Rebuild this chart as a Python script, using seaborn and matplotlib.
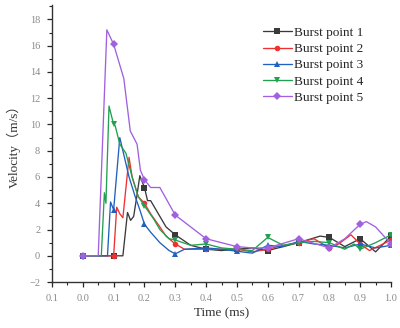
import numpy as np
import pandas as pd
import matplotlib
matplotlib.use("Agg")
import matplotlib.pyplot as plt
from matplotlib.ticker import MultipleLocator, FixedLocator, FixedFormatter
import seaborn as sns

# ---- data ----
t1 = [0.0, 0.1, 0.13, 0.145, 0.155, 0.165, 0.175, 0.185, 0.2, 0.21, 0.22, 0.25, 0.27, 0.3,
      0.35, 0.4, 0.45, 0.5, 0.55, 0.6, 0.65, 0.7, 0.77, 0.8, 0.85, 0.9, 0.95, 1.0]
v1 = [0.0, 0.0, 0.0, 3.3, 2.7, 3.0, 4.5, 6.1, 5.2, 4.2, 4.2, 3.0, 2.2, 1.6,
      0.8, 0.5, 0.4, 0.5, 0.6, 0.4, 0.7, 1.0, 1.5, 1.4, 0.7, 1.3, 0.3, 1.5]

t2 = [0.0, 0.1, 0.11, 0.12, 0.13, 0.15, 0.16, 0.18, 0.2, 0.22, 0.25, 0.27, 0.3,
      0.33, 0.4, 0.5, 0.55, 0.6, 0.65, 0.7, 0.75, 0.8, 0.83, 0.87, 0.9, 0.93, 1.0]
v2 = [0.0, 0.0, 3.7, 3.2, 2.9, 7.5, 6.0, 4.5, 4.0, 3.2, 2.2, 1.5, 0.9,
      0.5, 0.5, 0.5, 0.3, 0.5, 0.8, 1.0, 1.3, 0.6, 0.9, 1.6, 0.9, 0.4, 1.2]

t3 = [0.0, 0.08, 0.09, 0.1, 0.12, 0.13, 0.15, 0.17, 0.185, 0.2, 0.22, 0.25, 0.28, 0.3,
      0.33, 0.4, 0.45, 0.5, 0.55, 0.6, 0.65, 0.7, 0.75, 0.8, 0.85, 0.9, 0.95, 1.0]
v3 = [0.0, 0.0, 4.1, 3.5, 9.0, 8.0, 6.0, 4.5, 3.5, 2.4, 1.8, 1.0, 0.4, 0.15,
      0.5, 0.6, 0.5, 0.35, 0.2, 0.8, 0.7, 1.1, 0.9, 0.8, 0.6, 0.9, 0.6, 0.8]

t4 = [0.0, 0.06, 0.07, 0.075, 0.085, 0.1, 0.105, 0.12, 0.14, 0.16, 0.18, 0.2, 0.23, 0.25, 0.28, 0.3,
      0.35, 0.4, 0.45, 0.5, 0.55, 0.6, 0.65, 0.7, 0.75, 0.8, 0.85, 0.88, 0.9, 0.95, 1.0]
v4 = [0.0, 0.0, 4.8, 4.0, 11.4, 10.0, 9.9, 8.5, 7.8, 6.0, 4.5, 3.8, 2.8, 2.0, 1.3, 1.2,
      0.8, 0.9, 0.6, 0.5, 0.4, 1.4, 0.8, 1.0, 1.1, 1.0, 0.5, 0.9, 0.5, 1.0, 1.6]

t5 = [0.0, 0.05, 0.078, 0.1, 0.133, 0.154, 0.176, 0.187, 0.2, 0.22, 0.25, 0.3,
      0.4, 0.45, 0.5, 0.55, 0.6, 0.7, 0.8, 0.85, 0.9, 0.92, 0.95, 1.0]
v5 = [0.0, 0.0, 17.2, 16.1, 13.5, 9.5, 8.5, 6.5, 5.8, 5.2, 5.2, 3.1,
      1.3, 1.0, 0.7, 0.6, 0.6, 1.3, 0.6, 1.3, 2.4, 2.6, 2.2, 0.9]

series_names = ["Burst point 1", "Burst point 2", "Burst point 3", "Burst point 4", "Burst point 5"]
series_t = [t1, t2, t3, t4, t5]
series_v = [v1, v2, v3, v4, v5]
colors = ["#3a3a3a", "#f03030", "#2060c0", "#20a050", "#a060e0"]
markers = ["s", "o", "^", "v", "D"]
msizes = [4, 4, 4.5, 4.5, 4]

x_ticks = [-0.1, 0.0, 0.1, 0.2, 0.3, 0.4, 0.5, 0.6, 0.7, 0.8, 0.9, 1.0]
x_ticklabels = ["0.1", "0.0", "0.1", "0.2", "0.3", "0.4", "0.5", "0.6", "0.7", "0.8", "0.9", "1.0"]
y_ticks = [-2, 0, 2, 4, 6, 8, 10, 12, 14, 16, 18]

sns.set_style("ticks")
plt.rcParams["font.family"] = ["Liberation Serif", "DejaVu Serif"]

fig = plt.figure(figsize=(4.0, 3.28), dpi=100)
ax = fig.add_axes([0.13, 0.14, 0.8475, 0.845])

for name, t, v, c, m, ms in zip(series_names, series_t, series_v, colors, markers, msizes):
    df = pd.DataFrame({"t": t, "v": v})
    marks = [i for i, x in enumerate(t) if abs(round(x * 10) - x * 10) < 1e-6]
    sns.lineplot(data=df, x="t", y="v", ax=ax, color=c, lw=0.95, marker=m, markersize=ms,
                 markeredgewidth=0, markevery=marks, sort=False, estimator=None, label=name)

ax.set_xlim(-0.1, 1.0)
ax.set_ylim(-2, 19.1)
ax.xaxis.set_major_locator(FixedLocator(x_ticks))
ax.xaxis.set_major_formatter(FixedFormatter(x_ticklabels))
ax.xaxis.set_minor_locator(MultipleLocator(0.05))
ax.yaxis.set_major_locator(FixedLocator(y_ticks))
ax.yaxis.set_minor_locator(MultipleLocator(1))
ax.tick_params(which="major", direction="out", length=3.5, width=0.9, labelsize=7.5,
               labelcolor="#8a8a8a", pad=5)
ax.tick_params(which="minor", direction="out", length=2, width=0.8)
for s in ["top", "right"]:
    ax.spines[s].set_visible(False)
for s in ["left", "bottom"]:
    ax.spines[s].set_linewidth(1.0)
    ax.spines[s].set_color("#333333")

ax.set_xlabel("Time (ms)", fontsize=9.5, color="#333333", labelpad=3)
ax.set_ylabel("Velocity（m/s）", fontsize=9.5, color="#333333", labelpad=6,
              family=["Liberation Serif", "Noto Sans CJK SC"])

leg = ax.legend(loc="upper right", bbox_to_anchor=(0.935, 0.94), frameon=False, fontsize=9.5,
                handlelength=2.2, handletextpad=0.2, labelspacing=0.3, borderaxespad=0)

fig.savefig("out.png", dpi=100)
